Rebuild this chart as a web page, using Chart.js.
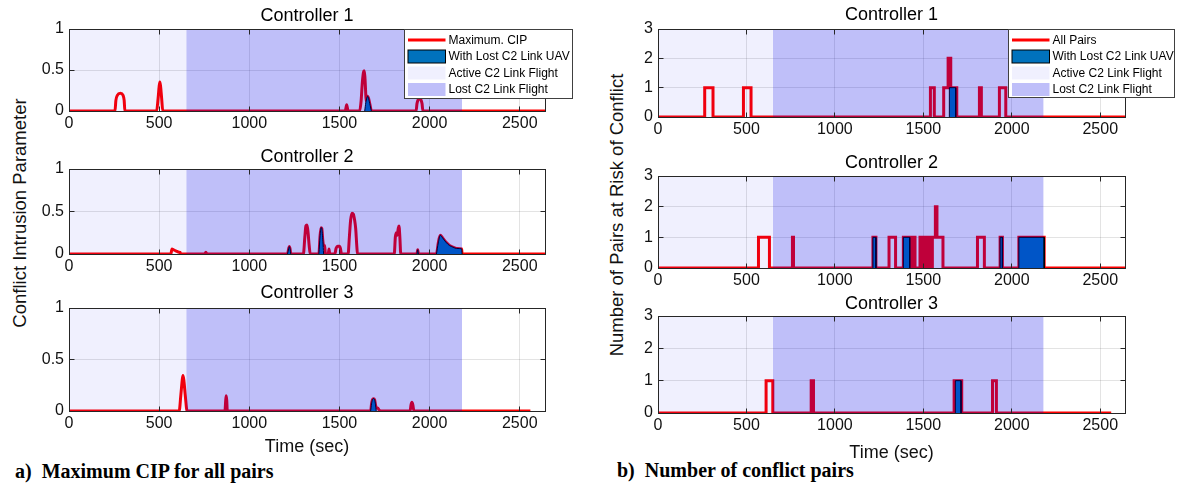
<!DOCTYPE html>
<html>
<head>
<meta charset="utf-8">
<script src="https://cdn.jsdelivr.net/npm/chart.js@4.4.1/dist/chart.umd.min.js"></script>
<style>
html, body { margin: 0; padding: 0; background: #fff; }
#wrap { position: relative; width: 1179px; height: 483px; overflow: hidden; background: #fff; font-family: "Liberation Sans", Arial, Helvetica, sans-serif; }
.cv { position: absolute; }
.ylab { position: absolute; white-space: nowrap; font-size: 18.5px; color: #111; transform: translate(-50%, -50%) rotate(-90deg); }
.cap { position: absolute; white-space: nowrap; font-family: "Liberation Serif", "Times New Roman", serif; font-weight: bold; font-size: 20px; color: #000; transform: translateY(-50%); }
</style>
</head>
<body>
<div id="wrap">
  <div class="ylab" style="left:20px; top:213px;">Conflict Intrusion Parameter</div>
  <div class="ylab" style="left:617px; top:215px;">Number of Pairs at Risk of Conflict</div>
  <div class="cap" style="left:15px; top:471px;">a)&nbsp; Maximum CIP for all pairs</div>
  <div class="cap" style="left:617px; top:470px;">b)&nbsp; Number of conflict pairs</div>
</div>
<script>
// ---------------- data ----------------
const xTickValues = [0, 500, 1000, 1500, 2000, 2500];
const cipTickValues = [0, 0.5, 1];
const pairTickValues = [0, 1, 2, 3];
const timeMax = 2640;
const activeSpan = [0, 650];
const lostSpan = [650, 2180];
const controllerTitles = ['Controller 1', 'Controller 2', 'Controller 3'];
const timeAxisTitle = 'Time (sec)';
const cipLegendLabels = ['Maximum. CIP', 'With Lost C2 Link UAV', 'Active C2 Link Flight', 'Lost C2 Link Flight'];
const pairLegendLabels = ['All Pairs', 'With Lost C2 Link UAV', 'Active C2 Link Flight', 'Lost C2 Link Flight'];

// Controller 1 - maximum CIP
const c1CipTime  = [0, 255, 260, 268, 285, 300, 306, 310, 486, 494, 500, 504, 508, 514, 520, 1532, 1540, 1548, 1612, 1620, 1627, 1633, 1637, 1641, 1645, 1648, 1650, 1656, 1662, 1670, 1677, 1925, 1930, 1937, 1944, 1951, 1958, 1963, 2640];
const c1CipValue = [0, 0, 0.13, 0.19, 0.215, 0.19, 0.13, 0, 0, 0.15, 0.3, 0.355, 0.3, 0.15, 0, 0, 0.075, 0, 0, 0.12, 0.35, 0.47, 0.49, 0.42, 0.25, 0.12, 0.13, 0.18, 0.15, 0.07, 0, 0, 0.09, 0.14, 0.155, 0.14, 0.09, 0, 0];
const c1LostTime = [[1640, 1646, 1652, 1656, 1662, 1670, 1677]];
const c1LostCip  = [[0, 0.1, 0.16, 0.18, 0.15, 0.07, 0]];

// Controller 2 - maximum CIP
const c2CipTime  = [0, 565, 571, 580, 595, 610, 617, 618, 752, 759, 766, 1212, 1218, 1222, 1226, 1230, 1300, 1308, 1314, 1320, 1326, 1332, 1338, 1386, 1392, 1398, 1402, 1408, 1412, 1418, 1422, 1438, 1442, 1446, 1474, 1482, 1490, 1500, 1506, 1511, 1548, 1555, 1562, 1570, 1577, 1584, 1590, 1596, 1600, 1804, 1810, 1816, 1820, 1826, 1830, 1835, 1840, 1930, 1934, 1938, 2038, 2048, 2059, 2072, 2090, 2110, 2130, 2150, 2178, 2180, 2640];
const c2CipValue = [0, 0, 0.06, 0.05, 0.035, 0.022, 0.02, 0, 0, 0.02, 0, 0, 0.06, 0.087, 0.06, 0, 0, 0.2, 0.33, 0.34, 0.25, 0.1, 0, 0, 0.2, 0.31, 0.3, 0.15, 0.1, 0.1, 0, 0, 0.06, 0, 0, 0.07, 0.09, 0.09, 0.06, 0, 0, 0.2, 0.4, 0.48, 0.47, 0.4, 0.3, 0.1, 0, 0, 0.2, 0.25, 0.22, 0.3, 0.33, 0.2, 0, 0, 0.05, 0, 0, 0.13, 0.22, 0.19, 0.14, 0.1, 0.08, 0.065, 0.06, 0, 0];
const c2LostTime = [[1212, 1218, 1222, 1226, 1230], [1386, 1392, 1398, 1402, 1408, 1412], [1930, 1934, 1938], [2038, 2048, 2059, 2072, 2090, 2110, 2130, 2150, 2178, 2180]];
const c2LostCip  = [[0, 0.06, 0.087, 0.06, 0], [0, 0.2, 0.31, 0.3, 0.15, 0], [0, 0.05, 0], [0, 0.13, 0.22, 0.19, 0.14, 0.1, 0.08, 0.065, 0.06, 0]];

// Controller 3 - maximum CIP
const c3CipTime  = [0, 611, 620, 628, 632, 637, 645, 655, 865, 869, 872, 875, 878, 1673, 1678, 1683, 1689, 1695, 1700, 1704, 1712, 1720, 1725, 1892, 1897, 1902, 1907, 1913, 2559];
const c3CipValue = [0, 0, 0.15, 0.3, 0.345, 0.3, 0.15, 0, 0, 0.1, 0.148, 0.1, 0, 0, 0.07, 0.11, 0.12, 0.11, 0.06, 0.03, 0.03, 0.01, 0, 0, 0.06, 0.084, 0.06, 0, 0];
const c3LostTime = [[1673, 1678, 1683, 1689, 1695, 1700, 1704]];
const c3LostCip  = [[0, 0.07, 0.11, 0.12, 0.11, 0.06, 0]];

// Number of pairs at risk (value holds from each change time to the next)
const c1PairTime  = [0, 264, 311, 483, 526, 1540, 1562, 1615, 1640, 1655, 1689, 1817, 1828, 1930, 1966, 2640];
const c1PairCount = [0, 1, 0, 1, 0, 1, 0, 1, 2, 1, 0, 1, 0, 1, 0, 0];
const c1LostPairTime  = [[1647, 1647, 1683, 1683]];
const c1LostPairCount = [[0, 1, 1, 0]];

const c2PairTime  = [0, 568, 630, 760, 766, 1215, 1232, 1306, 1343, 1387, 1423, 1440, 1453, 1481, 1498, 1504, 1515, 1523, 1536, 1551, 1568, 1577, 1611, 1806, 1845, 1934, 1947, 2040, 2183, 2640];
const c2PairCount = [0, 1, 0, 1, 0, 1, 0, 1, 0, 1, 0, 1, 0, 1, 0, 1, 0, 1, 0, 1, 2, 1, 0, 1, 0, 1, 0, 1, 0, 0];
const c2LostPairTime  = [[1215, 1215, 1232, 1232], [1387, 1387, 1423, 1423], [1934, 1934, 1947, 1947], [2040, 2040, 2183, 2183]];
const c2LostPairCount = [[0, 1, 1, 0], [0, 1, 1, 0], [0, 1, 1, 0], [0, 1, 1, 0]];

const c3PairTime  = [0, 611, 649, 866, 879, 1674, 1717, 1891, 1913, 2562];
const c3PairCount = [0, 1, 0, 1, 0, 1, 0, 1, 0, 0];
const c3LostPairTime  = [[1681, 1681, 1713, 1713]];
const c3LostPairCount = [[0, 1, 1, 0]];

// ---------------- styling / layout ----------------
const FONT = '"Liberation Sans", Arial, Helvetica, sans-serif';
const RED = '#ff0000';
const BLUE = '#0072bd';
const ACTIVE_FILL = 'rgba(0,0,230,0.06)';
const LOST_FILL = 'rgba(0,0,230,0.25)';
const AXIS_COLOR = '#262626';
const wrap = document.getElementById('wrap');

function pts(xs, ys) { return xs.map((x, i) => ({ x: x, y: ys[i] })); }
function plainLabel(v) { return String(v); }

const framePlugin = {
  id: 'frame',
  afterDatasetsDraw(chart) {
    const { ctx, chartArea: a, scales } = chart;
    const x = scales.x, y = scales.y;
    const L = Math.floor(a.left) + 0.5, R = Math.floor(a.right) + 0.5;
    const T = Math.floor(a.top) + 0.5, B = Math.floor(a.bottom) + 0.5;
    ctx.save();
    ctx.strokeStyle = AXIS_COLOR;
    ctx.lineWidth = 1;
    ctx.beginPath();
    x.ticks.forEach(t => {
      const px = Math.floor(x.getPixelForValue(t.value)) + 0.5;
      ctx.moveTo(px, B); ctx.lineTo(px, B - 5);
      ctx.moveTo(px, T); ctx.lineTo(px, T + 5);
    });
    y.ticks.forEach(t => {
      const py = Math.floor(y.getPixelForValue(t.value)) + 0.5;
      ctx.moveTo(L, py); ctx.lineTo(L + 5, py);
      ctx.moveTo(R, py); ctx.lineTo(R - 5, py);
    });
    ctx.stroke();
    ctx.strokeRect(L, T, R - L, B - T);
    ctx.restore();
  }
};

const boxLegendPlugin = {
  id: 'boxLegend',
  afterDraw(chart, args, opts) {
    if (!opts || !opts.show) return;
    const { ctx, chartArea: a } = chart;
    const left = Math.floor(a.right - opts.inset) + 0.5;
    const top = Math.floor(a.top) + 0.5;
    const w = opts.width, h = opts.height;
    ctx.save();
    ctx.fillStyle = '#ffffff';
    ctx.fillRect(left, top, w, h);
    ctx.strokeStyle = '#404040';
    ctx.lineWidth = 1;
    ctx.strokeRect(left, top, w, h);
    ctx.font = '12px ' + FONT;
    ctx.textBaseline = 'middle';
    ctx.textAlign = 'left';
    const ix0 = left + 3.5, ix1 = left + 41;
    opts.labels.forEach((label, i) => {
      const cy = top + 10.5 + i * 16.5;
      if (i === 0) {
        ctx.strokeStyle = RED; ctx.lineWidth = 3;
        ctx.beginPath(); ctx.moveTo(ix0, cy); ctx.lineTo(ix1, cy); ctx.stroke();
      } else if (i === 1) {
        ctx.fillStyle = BLUE; ctx.fillRect(ix0, cy - 6.5, ix1 - ix0, 13);
        ctx.strokeStyle = '#000'; ctx.lineWidth = 1; ctx.strokeRect(ix0, cy - 6.5, ix1 - ix0, 13);
      } else {
        ctx.fillStyle = i === 2 ? ACTIVE_FILL : LOST_FILL;
        ctx.fillRect(ix0, cy - 6.5, ix1 - ix0, 13);
      }
      ctx.fillStyle = '#000';
      ctx.fillText(label, left + 44, cy + 0.5);
    });
    ctx.restore();
  }
};

function buildSets(p) {
  const sets = [
    { data: pts(activeSpan, [p.yMax, p.yMax]), fill: 'origin', backgroundColor: ACTIVE_FILL, borderWidth: 0, pointRadius: 0, order: 0 },
    { data: pts(lostSpan, [p.yMax, p.yMax]), fill: 'origin', backgroundColor: LOST_FILL, borderWidth: 0, pointRadius: 0, order: 0 }
  ];
  const smooth = p.kind === 'cip' ? 'monotone' : 'default';
  p.lostT.forEach((tt, k) => {
    sets.push({ data: pts(tt, p.lostV[k]), fill: 'origin', backgroundColor: BLUE, borderColor: '#000', borderWidth: 1,
      pointRadius: 0, tension: 0, cubicInterpolationMode: smooth, order: 1 });
  });
  sets.push({ data: pts(p.time, p.vals), fill: false, borderColor: RED, borderWidth: 3, pointRadius: 0, tension: 0,
    cubicInterpolationMode: smooth, stepped: p.kind === 'pairs', order: 2, borderJoinStyle: 'miter' });
  return sets;
}

function makePanel(p) {
  const yW = 60, topH = 30;
  const cw = (p.r - p.l) + yW + p.padR;
  const ch = (p.b - p.t) + topH + p.bottomH;
  const div = document.createElement('div');
  div.className = 'cv';
  div.style.left = (p.l - yW) + 'px';
  div.style.top = (p.t - topH) + 'px';
  div.style.width = cw + 'px';
  div.style.height = ch + 'px';
  const canvas = document.createElement('canvas');
  canvas.width = cw; canvas.height = ch;
  canvas.style.width = cw + 'px'; canvas.style.height = ch + 'px';
  div.appendChild(canvas);
  wrap.appendChild(div);
  const titleLH = 18 * 1.2;
  const pt = topH - (p.t - p.titleY) - titleLH / 2;
  const pb = topH - titleLH - pt;
  const xTitlePb = p.xTitleY ? p.bottomH - titleLH / 2 - (p.xTitleY - p.b) : 0;
  new Chart(canvas, {
    type: 'line',
    data: { datasets: buildSets(p) },
    options: {
      responsive: false,
      animation: false,
      events: [],
      layout: { padding: { left: 0, top: 0, bottom: 0, right: p.padR } },
      plugins: {
        legend: { display: false },
        tooltip: { enabled: false },
        title: { display: true, text: p.title, fullSize: false, color: '#000',
          font: { family: FONT, size: 18, weight: 'normal', lineHeight: 1.2 }, padding: { top: pt, bottom: pb } },
        boxLegend: p.legend || { show: false }
      },
      scales: {
        x: {
          type: 'linear', min: 0, max: timeMax, bounds: 'data',
          afterBuildTicks: s => { s.ticks = xTickValues.map(v => ({ value: v })); },
          afterFit: s => { s.height = p.bottomH; },
          ticks: { autoSkip: false, maxRotation: 0, padding: 3, color: '#111', font: { family: FONT, size: 16 }, callback: plainLabel },
          grid: { color: 'rgba(38,38,38,0.13)', drawTicks: false, lineWidth: 1 },
          border: { display: false },
          title: { display: !!p.xTitleY, text: timeAxisTitle, color: '#111',
            font: { family: FONT, size: 18, lineHeight: 1.2 }, padding: { top: 0, bottom: xTitlePb } }
        },
        y: {
          type: 'linear', min: 0, max: p.yMax, bounds: 'data',
          afterBuildTicks: s => { s.ticks = p.yTicks.map(v => ({ value: v })); },
          afterFit: s => { s.width = yW; },
          ticks: { padding: 5, color: '#111', font: { family: FONT, size: 16 }, callback: plainLabel },
          grid: { color: 'rgba(38,38,38,0.13)', drawTicks: false, lineWidth: 1 },
          border: { display: false }
        }
      }
    },
    plugins: [framePlugin, boxLegendPlugin]
  });
}

const LX = { l: 69, r: 545 };
const RX = { l: 658, r: 1125 };
const panels = [
  Object.assign({}, LX, { t: 29, b: 111, titleY: 16, padR: 40, bottomH: 22, kind: 'cip', yMax: 1, yTicks: cipTickValues,
    title: controllerTitles[0], time: c1CipTime, vals: c1CipValue, lostT: c1LostTime, lostV: c1LostCip,
    legend: { show: true, labels: cipLegendLabels, inset: 141, width: 168, height: 69 } }),
  Object.assign({}, LX, { t: 169, b: 254, titleY: 157, padR: 20, bottomH: 22, kind: 'cip', yMax: 1, yTicks: cipTickValues,
    title: controllerTitles[1], time: c2CipTime, vals: c2CipValue, lostT: c2LostTime, lostV: c2LostCip }),
  Object.assign({}, LX, { t: 308, b: 411, titleY: 293, padR: 20, bottomH: 52, xTitleY: 447, kind: 'cip', yMax: 1, yTicks: cipTickValues,
    title: controllerTitles[2], time: c3CipTime, vals: c3CipValue, lostT: c3LostTime, lostV: c3LostCip }),
  Object.assign({}, RX, { t: 29, b: 117, titleY: 15.5, padR: 52, bottomH: 22, kind: 'pairs', yMax: 3, yTicks: pairTickValues,
    title: controllerTitles[0], time: c1PairTime, vals: c1PairCount, lostT: c1LostPairTime, lostV: c1LostPairCount,
    legend: { show: true, labels: pairLegendLabels, inset: 117, width: 166, height: 68 } }),
  Object.assign({}, RX, { t: 176, b: 268, titleY: 163, padR: 20, bottomH: 22, kind: 'pairs', yMax: 3, yTicks: pairTickValues,
    title: controllerTitles[1], time: c2PairTime, vals: c2PairCount, lostT: c2LostPairTime, lostV: c2LostPairCount }),
  Object.assign({}, RX, { t: 316, b: 413, titleY: 304, padR: 20, bottomH: 52, xTitleY: 453, kind: 'pairs', yMax: 3, yTicks: pairTickValues,
    title: controllerTitles[2], time: c3PairTime, vals: c3PairCount, lostT: c3LostPairTime, lostV: c3LostPairCount })
];
panels.forEach(makePanel);
</script>
</body>
</html>
